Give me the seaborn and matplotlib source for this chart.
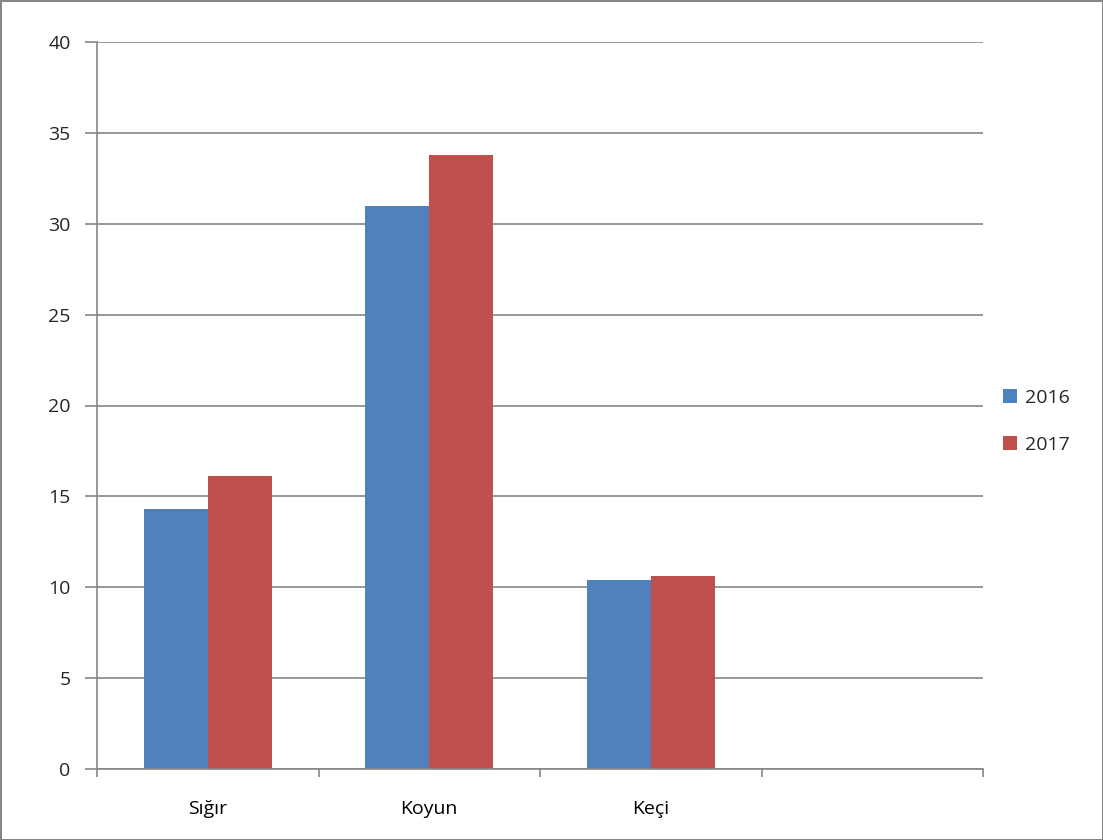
import matplotlib
matplotlib.use("Agg")
import matplotlib.pyplot as plt
import seaborn as sns
import pandas as pd

categories = ["Sığır", "Koyun", "Keçi", " "]
years = ["2016", "2017"]
values_2016 = [14.3, 31.0, 10.4]
values_2017 = [16.1, 33.8, 10.6]
colors = ["#4F81BD", "#C0504D"]

rows = []
for c, v in zip(categories[:3], values_2016):
    rows.append({"cat": c, "year": "2016", "val": v})
for c, v in zip(categories[:3], values_2017):
    rows.append({"cat": c, "year": "2017", "val": v})
df = pd.DataFrame(rows)

sns.set_theme(style="white")
plt.rcParams['font.family'] = ['Open Sans', 'DejaVu Sans']

fig = plt.figure(figsize=(11.03, 8.4), dpi=100, edgecolor="#868686", linewidth=2)
ax = fig.add_axes([97/1103, 1-769/840, (983-97)/1103, (769-42)/840])

sns.barplot(data=df, x="cat", y="val", hue="year", order=categories,
            hue_order=years, palette=colors, width=0.58, saturation=1,
            ax=ax, errorbar=None, linewidth=0, edgecolor="none")

ax.set_xlim(-0.5, 3.5)
ax.set_ylim(0, 40)
ax.set_yticks(range(0, 41, 5))
ax.yaxis.grid(True, color="#868686", linewidth=1.2)
ax.set_axisbelow(True)
ax.set_xlabel("")
ax.set_ylabel("")
for s in ["top", "right"]:
    ax.spines[s].set_visible(False)
for s in ["left", "bottom"]:
    ax.spines[s].set_color("#868686")
    ax.spines[s].set_linewidth(1.2)

ax.set_xticks([0, 1, 2, 3])
ax.set_xticklabels(categories)
ax.set_xticks([-0.5, 0.5, 1.5, 2.5, 3.5], minor=True)
ax.tick_params(axis="x", which="major", length=0, pad=22, labelsize=14, colors="black")
ax.tick_params(axis="x", which="minor", length=6, width=1.2, color="#868686", direction="out", bottom=True)
ax.tick_params(axis="y", length=9, width=1.2, color="#868686", direction="out", left=True, labelsize=14, pad=10)

handles, labels = ax.get_legend_handles_labels()
ax.legend(handles, labels, loc="center left", bbox_to_anchor=(1.0135, 0.478),
          frameon=False, fontsize=14, handlelength=0.72, handleheight=0.72,
          handletextpad=0.45, labelspacing=1.5, borderaxespad=0, borderpad=0.4)

fig.savefig("out.png", dpi=100)
